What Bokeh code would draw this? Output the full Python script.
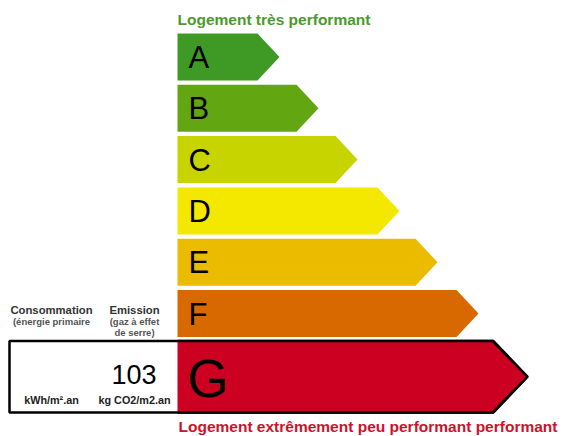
from bokeh.plotting import figure
from bokeh.models import Range1d
from bokeh.core.properties import value
from bokeh.embed import file_html
from bokeh.resources import INLINE

# ---- data ----
classes = ["A", "B", "C", "D", "E", "F", "G"]
arrow_lengths = [102, 141, 180, 222, 260, 301, 350]   # tip distance from bar start (px)
class_colors = ["#3f9a25", "#62a612", "#c8d400", "#f5e800", "#ebbb00", "#d86900", "#cc0020"]
consumption_value = "103"
top_label = "Logement très performant"
bottom_label = "Logement extrêmement peu performant performant"

W, H = 563, 436
p = figure(width=W, height=H, output_backend="svg", toolbar_location=None,
           x_range=Range1d(0, W), y_range=Range1d(H, 0), min_border=0)
p.axis.visible = False
p.grid.visible = False
p.outline_line_color = None
p.background_fill_color = "white"
p.border_fill_color = "white"

OX, OY = 0, 0  # page offset
x0 = 177 - OX
FONT = value("Liberation Sans")

xs, ys = [], []
for i, L in enumerate(arrow_lengths[:-1]):
    top = 33 + i * 51.3 - OY
    h = 47
    tip = x0 + L
    body = tip - 22
    xs.append([x0, body, tip, body, x0])
    ys.append([top, top, top + h / 2, top + h, top + h])
p.patches(xs, ys, fill_color=class_colors[:-1], line_color=None)

# G bar with outline and the white value box
gtop, gbot = 340.5 - OY, 412 - OY
gtip = x0 + arrow_lengths[-1]
gbody = gtip - 34
p.patch([9 - OX, gbody, gtip, gbody, 9 - OX],
        [gtop, gtop, (gtop + gbot) / 2, gbot, gbot],
        fill_color="white", line_color="black", line_width=2.5)
p.patch([x0, gbody, gtip, gbody, x0],
        [gtop, gtop, (gtop + gbot) / 2, gbot, gbot],
        fill_color=class_colors[-1], line_color=None)
p.line([gbody - 1, gtip, gbody - 1], [gtop, (gtop + gbot) / 2, gbot], line_color="black", line_width=2.5)
p.line([x0, gbody], [gtop, gtop], line_color="black", line_width=2.5)
p.line([x0, gbody], [gbot, gbot], line_color="black", line_width=2.5)

# letters
lx = [188 - OX] * 6
ly = [33 + i * 51.3 - OY + 24 for i in range(6)]
p.text(lx, ly, text=classes[:-1], text_font=FONT, text_font_size="31px",
       text_baseline="middle", text_color="black")
p.text([187 - OX], [(gtop + gbot) / 2 + 2], text=[classes[-1]], text_font=FONT,
       text_font_size="53px", text_baseline="middle", text_color="black")

# titles
p.text([177 - OX], [19 - OY], text=[top_label], text_font=FONT, text_font_size="15.5px",
       text_font_style="bold", text_baseline="middle", text_color="#4a9b2c")
p.text([178 - OX], [426 - OY], text=[bottom_label], text_font=FONT, text_font_size="15.5px",
       text_font_style="bold", text_baseline="middle", text_color="#d0112b")

# left labels
p.text([51 - OX, 134 - OX], [309 - OY, 309 - OY], text=["Consommation", "Emission"],
       text_font=FONT, text_font_size="11.3px", text_font_style="bold",
       text_align="center", text_baseline="middle", text_color="#333333")
p.text([51 - OX, 134 - OX, 134 - OX], [321 - OY, 321 - OY, 332 - OY],
       text=["(énergie primaire", "(gaz à effet", "de serre)"],
       text_font=FONT, text_font_size="9.5px", text_font_style="bold",
       text_align="center", text_baseline="middle", text_color="#555555")

# value box
p.text([156 - OX], [374 - OY], text=[consumption_value], text_font=FONT, text_font_size="27px",
       text_align="right", text_baseline="middle", text_color="black")
p.text([51 - OX, 134 - OX], [399 - OY, 399 - OY], text=["kWh/m².an", "kg CO2/m2.an"],
       text_font=FONT, text_font_size="10.8px", text_font_style="bold",
       text_align="center", text_baseline="middle", text_color="#222222")

open("out.html", "w").write(file_html(p, INLINE))
